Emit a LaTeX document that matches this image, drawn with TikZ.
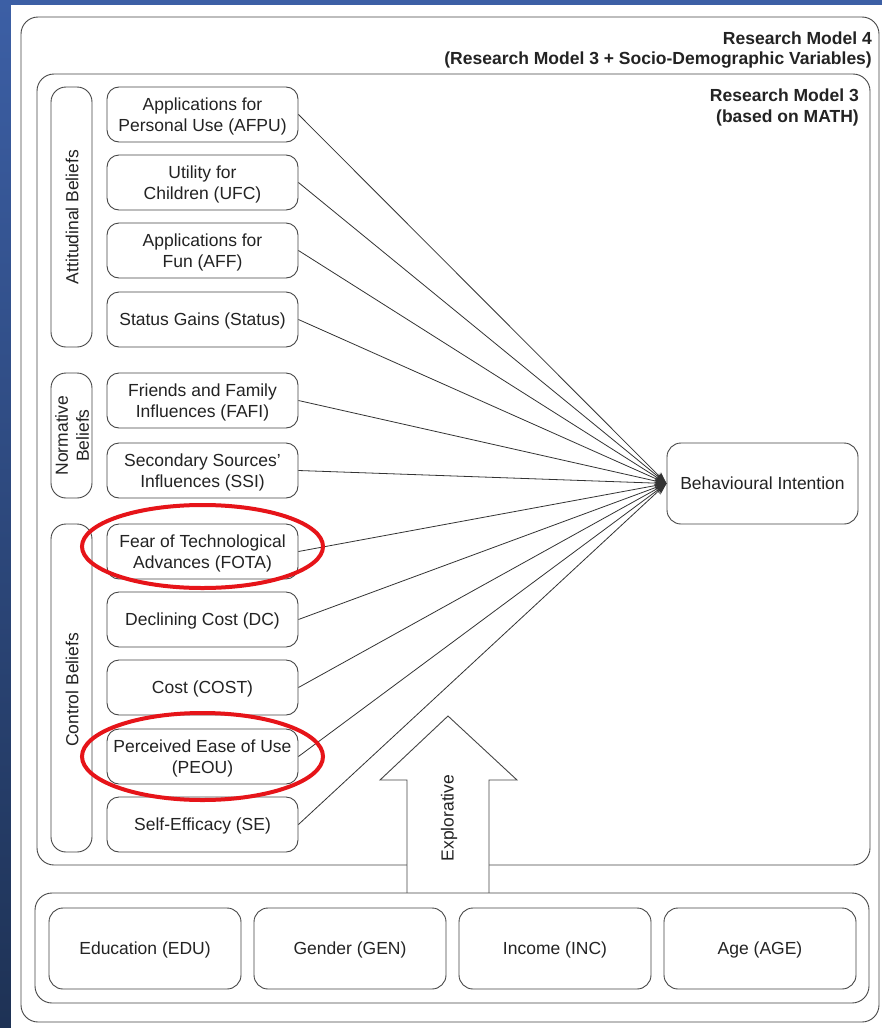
\documentclass[tikz,border=0pt]{standalone}
\usepackage{fontspec}
\setmainfont{Liberation Sans}
\usetikzlibrary{arrows.meta,shapes.geometric}
\definecolor{bgtop}{RGB}{60,95,165}
\definecolor{bgbot}{RGB}{30,50,85}
\definecolor{lncol}{RGB}{70,70,70}
\definecolor{txcol}{RGB}{35,35,35}
\definecolor{hired}{RGB}{230,20,25}
\newcommand\myfs{\fontsize{17.5}{21}\selectfont}
\tikzset{
  itembox/.style={draw=lncol, line width=0.9pt, rounded corners=12pt, fill=white,
    minimum width=191pt, minimum height=55pt, inner sep=0pt, align=center,
    font=\myfs, text=txcol, text depth=0pt},
  groupbox/.style={draw=lncol, line width=0.9pt, rounded corners=15pt,
    minimum width=41pt, inner sep=0pt},
  grouplabel/.style={rotate=90, align=center, font=\myfs, text=txcol},
  demobox/.style={draw=lncol, line width=0.9pt, rounded corners=14pt,
    minimum width=192pt, minimum height=81pt, inner sep=0pt, font=\myfs, text=txcol,
    text depth=0pt},
  frame/.style={draw=lncol, line width=0.9pt, rounded corners=17pt},
  heading/.style={font=\myfs\bfseries, text=txcol, anchor=base east, inner sep=0pt},
  conn/.style={draw=black!80, line width=0.8pt, -{Stealth[length=12pt,width=8pt]}},
  highlight/.style={draw=hired, line width=4pt}
}
\begin{document}
\begin{tikzpicture}[x=1pt,y=-1pt]
\useasboundingbox (0,0) rectangle (882,1028);
% background
\shade[top color=bgtop, bottom color=bgbot] (0,0) rectangle (882,1028);
\fill[white] (11,5) rectangle (882,1028);
% frames
\draw[frame] (21,17) rectangle (879,1022);
\draw[frame] (37,74) rectangle (870,865);
\node[heading] (h4a) at (872,44) {Research Model 4};
\node[heading] (h4b) at (872,64) {(Research Model 3 + Socio-Demographic Variables)};
\node[heading] (h3a) at (859,101) {Research Model 3};
\node[heading] (h3b) at (859,122) {(based on MATH)};
% group boxes
\node[groupbox, minimum height=260pt] (gatt) at (71.5,217) {};
\node[grouplabel] (latt) at (72,217) {Attitudinal Beliefs};
\node[groupbox, minimum height=125pt] (gnor) at (71.5,435.5) {};
\node[grouplabel] (lnor) at (72,435.5) {Normative\\Beliefs};
\node[groupbox, minimum height=328pt] (gcon) at (71.5,688) {};
\node[grouplabel] (lcon) at (72,690) {Control Beliefs};
% items
\node[itembox] (afpu) at (202.5,114.5) {Applications for\\Personal Use (AFPU)};
\node[itembox] (ufc) at (202.5,182.5) {Utility for\\Children (UFC)};
\node[itembox] (aff) at (202.5,250.5) {Applications for\\Fun (AFF)};
\node[itembox] (stat) at (202.5,319.5) {Status Gains (Status)};
\node[itembox] (fafi) at (202.5,400.5) {Friends and Family\\Influences (FAFI)};
\node[itembox] (ssi) at (202.5,470.5) {Secondary Sources'\\Influences (SSI)};
\node[itembox] (fota) at (202.5,551.5) {Fear of Technological\\Advances (FOTA)};
\node[itembox] (dc) at (202.5,619.5) {Declining Cost (DC)};
\node[itembox] (cost) at (202.5,687.5) {Cost (COST)};
\node[itembox] (peou) at (202.5,756.5) {Perceived Ease of Use\\(PEOU)};
\node[itembox] (se) at (202.5,824.5) {Self-Efficacy (SE)};
% behavioural intention
\node[itembox, rounded corners=14pt, minimum width=191pt, minimum height=81pt] (bi) at (762.5,483.5) {Behavioural Intention};
% connectors
\foreach \n in {afpu,ufc,aff,stat,fafi,ssi,fota,dc,cost,peou,se}
  \draw[conn] (\n.east) -- (bi.west);
% explorative arrow
\fill[white] (407,894) -- (407,780) -- (380,780) -- (448,716) -- (517,780) -- (489,780) -- (489,894) -- cycle;
\draw[draw=lncol, line width=0.9pt] (407,893) -- (407,780) -- (380,780) -- (448,716) -- (517,780) -- (489,780) -- (489,893);
\node[grouplabel] (expl) at (449,818) {Explorative};
% socio-demographic
\draw[frame, fill=white] (35,893) rectangle (869,1003);
\node[demobox] (edu) at (145,948.5) {Education (EDU)};
\node[demobox] (gen) at (350,948.5) {Gender (GEN)};
\node[demobox] (inc) at (555,948.5) {Income (INC)};
\node[demobox] (age) at (760,948.5) {Age (AGE)};
% highlights
\draw[highlight] (202.5,546.5) ellipse [x radius=120.5pt, y radius=41.5pt];
\draw[highlight] (202.5,756.5) ellipse [x radius=120.5pt, y radius=43.5pt];
\end{tikzpicture}
\end{document}
